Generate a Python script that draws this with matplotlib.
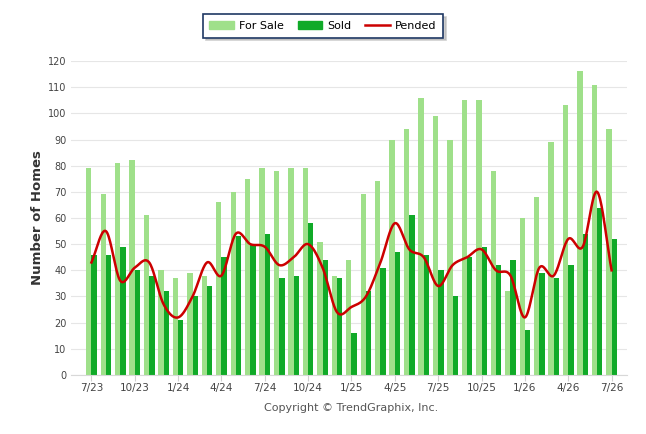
import numpy as np
import matplotlib.pyplot as plt
from matplotlib.patches import Patch
from matplotlib.lines import Line2D

# monthly data 7/23 .. 7/26
months = ['7/23', '8/23', '9/23', '10/23', '11/23', '12/23', '1/24', '2/24', '3/24',
          '4/24', '5/24', '6/24', '7/24', '8/24', '9/24', '10/24', '11/24', '12/24',
          '1/25', '2/25', '3/25', '4/25', '5/25', '6/25', '7/25', '8/25', '9/25',
          '10/25', '11/25', '12/25', '1/26', '2/26', '3/26', '4/26', '5/26', '6/26', '7/26']
for_sale = [79, 69, 81, 82, 61, 40, 37, 39, 38, 66, 70, 75, 79, 78, 79, 79, 51, 38, 44,
            69, 74, 90, 94, 106, 99, 90, 105, 105, 78, 32, 60, 68, 89, 103, 116, 111, 94]
sold = [46, 46, 49, 40, 38, 32, 21, 30, 34, 45, 53, 50, 54, 37, 38, 58, 44, 37, 16,
        32, 41, 47, 61, 46, 40, 30, 45, 49, 42, 44, 17, 39, 37, 42, 54, 64, 52]
pended = [43, 55, 36, 41, 43, 27, 22, 30, 43, 38, 54, 50, 49, 42, 45, 50, 41, 24, 26,
          30, 43, 58, 48, 45, 34, 42, 45, 48, 40, 38, 22, 41, 38, 52, 49, 70, 40]
tick_labels = months[::3]

light = '#9fe08a'
dark = '#10aa28'
red = '#cc0000'

def smooth(xs, ys, n=20):
    # catmull-rom spline through the points
    xs = np.asarray(xs, float)
    ys = np.asarray(ys, float)
    px = np.concatenate([[2*xs[0]-xs[1]], xs, [2*xs[-1]-xs[-2]]])
    py = np.concatenate([[2*ys[0]-ys[1]], ys, [2*ys[-1]-ys[-2]]])
    ox, oy = [], []
    t = np.linspace(0, 1, n, endpoint=False)
    for i in range(1, len(px)-2):
        for P, out in ((px, ox), (py, oy)):
            p0, p1, p2, p3 = P[i-1], P[i], P[i+1], P[i+2]
            out.extend(0.5*((2*p1) + (-p0+p2)*t + (2*p0-5*p1+4*p2-p3)*t**2
                            + (-p0+3*p1-3*p2+p3)*t**3))
    ox.append(xs[-1]); oy.append(ys[-1])
    return np.array(ox), np.array(oy)

x = np.arange(len(months))
w = 0.37

fig = plt.figure(figsize=(6.46, 4.34), dpi=100)
ax = fig.add_axes([0.1095, 0.136, 0.8605, 0.7234])

ax.bar(x - w/2, for_sale, width=w, color=light, zorder=2)
ax.bar(x + w/2, sold, width=w, color=dark, zorder=2)
sx, sy = smooth(x, pended)
ax.plot(sx, sy, color=red, lw=1.8, zorder=3)

ax.set_xlim(-1.43, 37.04)
ax.set_ylim(0, 120)
ax.set_yticks(range(0, 121, 10))
ax.set_xticks(x[::3])
ax.set_xticklabels(tick_labels)
ax.grid(axis='y', color='#e6e6e6', lw=0.8, zorder=0)
for s in ['top', 'right', 'left']:
    ax.spines[s].set_visible(False)
ax.spines['bottom'].set_color('#d8d8d8')
ax.tick_params(axis='y', length=0, labelsize=7, labelcolor='#444444', pad=3)
ax.tick_params(axis='x', length=4, color='#d0d0d0', labelsize=7.5, labelcolor='#444444', pad=2)
ax.set_ylabel('Number of Homes', fontsize=9.5, fontweight='bold', color='#333333', labelpad=3)

handles = [Patch(color=light, label='For Sale'), Patch(color=dark, label='Sold'),
           Line2D([0], [0], color=red, lw=1.8, label='Pended')]
leg = fig.legend(handles=handles, loc='center', bbox_to_anchor=(0.5, 0.94), ncol=3,
                 fontsize=8, frameon=True, fancybox=False,
                 shadow={'color': '#b0b0b0', 'alpha': 0.6},
                 handlelength=2.2, handleheight=0.7, columnspacing=1.2,
                 borderpad=0.6, handletextpad=0.5)
leg.get_frame().set_edgecolor('#1f3864')
leg.get_frame().set_linewidth(1.2)

fig.text(0.543, 0.06, 'Copyright \u00a9 TrendGraphix, Inc.', ha='center', va='center',
         fontsize=8, color='#555555')

fig.savefig('out.png', dpi=100)
